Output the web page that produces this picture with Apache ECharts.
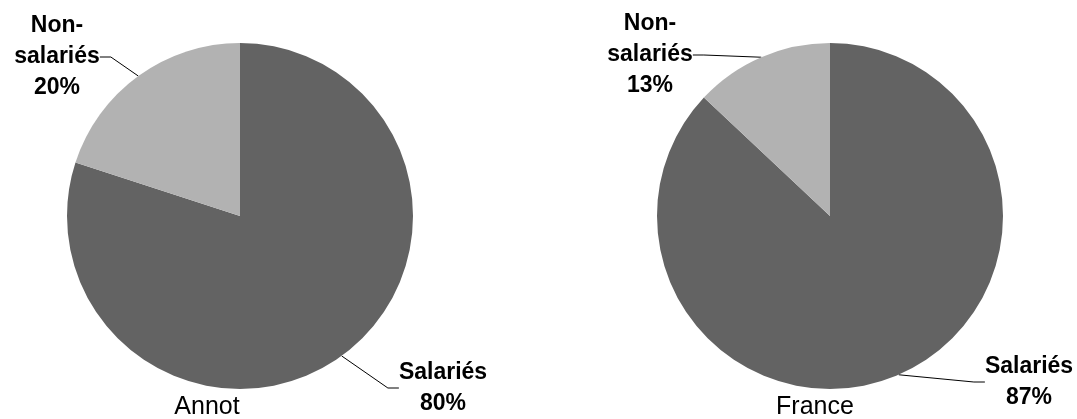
<!DOCTYPE html>
<html>
<head>
<meta charset="utf-8">
<script src="https://cdn.jsdelivr.net/npm/echarts@6/dist/echarts.min.js"></script>
<style>
  html, body { margin: 0; padding: 0; background: #fff; }
  #chart { width: 1077px; height: 419px; }
</style>
</head>
<body>
<div id="chart"></div>
<script>
// Employment status shares, in percent
const categories = ['Salariés', 'Non-\nsalariés'];
const annotValues = [80, 20];
const franceValues = [87, 13];
const panelTitles = ['Annot', 'France'];

const sliceColors = ['#636363', '#b2b2b2'];
const FONT = '"Liberation Sans", Arial, sans-serif';

// Label anchor points (centre of each text block) per pie and slice
const labelSpots = [
  [[443, 388], [57, 57]],
  [[1029, 382], [650, 55]]
];

function makeSeries(values, idx, center) {
  return {
    type: 'pie',
    center: center,
    radius: 173,
    startAngle: 90,
    clockwise: true,
    animation: false,
    silent: true,
    itemStyle: { borderWidth: 0 },
    data: categories.map((c, i) => ({
      name: c,
      value: values[i],
      itemStyle: { color: sliceColors[i] }
    })),
    label: {
      show: true,
      position: 'outside',
      formatter: p => p.name + '\n' + p.value + '%',
      fontFamily: FONT,
      fontSize: 23,
      fontWeight: 'bold',
      lineHeight: 31,
      color: '#000',
      align: 'center'
    },
    labelLine: {
      show: true,
      length: 15,
      length2: 11,
      lineStyle: { color: '#000', width: 1 }
    },
    labelLayout: p => {
      const s = labelSpots[idx][p.dataIndex];
      return { x: s[0], y: s[1], align: 'center', verticalAlign: 'middle' };
    }
  };
}

const chart = echarts.init(document.getElementById('chart'), null, { renderer: 'canvas' });
chart.setOption({
  backgroundColor: '#fff',
  title: [
    { text: panelTitles[0], left: 207, top: 395, textAlign: 'center', padding: 0,
      textStyle: { fontFamily: FONT, fontSize: 25, fontWeight: 'normal', color: '#000' } },
    { text: panelTitles[1], left: 815, top: 395, textAlign: 'center', padding: 0,
      textStyle: { fontFamily: FONT, fontSize: 25, fontWeight: 'normal', color: '#000' } }
  ],
  series: [
    makeSeries(annotValues, 0, [240, 216]),
    makeSeries(franceValues, 1, [830, 216])
  ]
});
</script>
</body>
</html>
